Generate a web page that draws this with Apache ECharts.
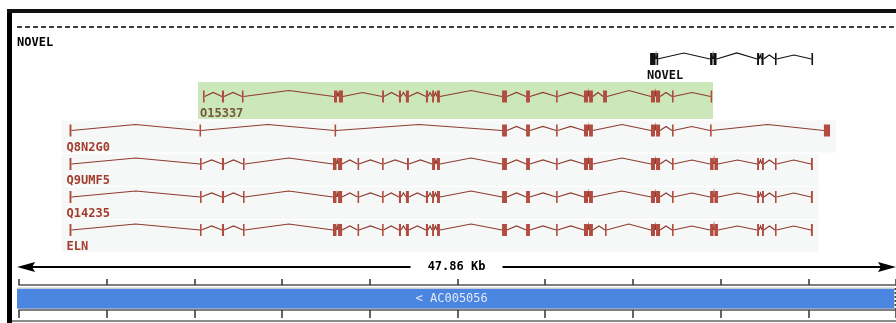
<!DOCTYPE html>
<html>
<head>
<meta charset="utf-8">
<script src="https://cdn.jsdelivr.net/npm/echarts@6/dist/echarts.min.js"></script>
<style>
  html, body { margin: 0; padding: 0; background: #fff; }
  #chart { width: 896px; height: 323px; }
</style>
</head>
<body>
<div id="chart"></div>
<script>
// all positions in kb from the left edge of the view
const trackName = 'NOVEL'
const geneNames = ['NOVEL', 'O15337', 'Q8N2G0', 'Q9UMF5', 'Q14235', 'ELN']

const novelExons = [[35.98, 36.29], [36.35, 36.40], [39.40, 39.54], [39.60, 39.77], [42.08, 42.19], [42.33, 42.45], [43.10, 43.19], [45.18, 45.26]]
const o15337Exons = [[10.49, 10.58], [11.57, 11.69], [12.71, 12.80], [17.96, 18.13], [18.24, 18.47], [20.70, 20.81], [21.66, 21.78], [22.06, 22.23], [23.20, 23.32], [23.55, 23.66], [23.83, 24.00], [27.54, 27.82], [28.91, 29.13], [30.62, 30.70], [32.21, 32.44], [32.50, 32.72], [33.30, 33.52], [36.03, 36.26], [36.32, 36.55], [37.23, 37.31], [39.43, 39.51]]
const q8n2g0Exons = [[2.88, 2.99], [10.29, 10.38], [17.99, 18.07], [27.54, 27.82], [28.91, 29.13], [30.62, 30.70], [32.21, 32.44], [32.50, 32.72], [36.03, 36.26], [36.32, 36.55], [37.23, 37.31], [39.40, 39.48], [45.89, 46.24]]
const q9umf5Exons = [[2.88, 2.99], [10.32, 10.40], [11.57, 11.69], [12.77, 12.86], [17.90, 18.10], [18.19, 18.42], [19.30, 19.38], [20.70, 20.78], [22.12, 22.23], [23.55, 23.72], [23.83, 24.00], [27.54, 27.82], [28.91, 29.13], [30.62, 30.70], [32.21, 32.44], [32.50, 32.72], [36.03, 36.26], [36.32, 36.55], [37.23, 37.31], [39.40, 39.60], [39.65, 39.85], [42.08, 42.19], [42.36, 42.47], [43.10, 43.19], [45.15, 45.26]]
const q14235Exons = [[2.88, 2.99], [10.32, 10.40], [11.57, 11.69], [12.77, 12.86], [17.90, 18.10], [18.19, 18.42], [19.30, 19.38], [20.70, 20.78], [21.66, 21.78], [22.06, 22.23], [23.20, 23.32], [23.55, 23.66], [23.83, 24.00], [27.54, 27.82], [28.91, 29.13], [30.62, 30.70], [32.21, 32.44], [32.50, 32.72], [36.03, 36.26], [36.32, 36.55], [37.23, 37.31], [39.40, 39.60], [39.65, 39.85], [42.08, 42.19], [42.36, 42.47], [43.10, 43.19], [45.15, 45.26]]
const elnExons = [[2.88, 2.99], [10.32, 10.40], [11.57, 11.69], [12.77, 12.86], [17.90, 18.10], [18.19, 18.42], [19.30, 19.38], [20.70, 20.78], [21.66, 21.78], [22.06, 22.23], [23.20, 23.32], [23.55, 23.66], [23.83, 24.00], [27.54, 27.82], [28.91, 29.13], [30.62, 30.70], [32.21, 32.44], [32.50, 32.72], [33.41, 33.49], [36.03, 36.26], [36.32, 36.55], [37.23, 37.31], [39.40, 39.60], [39.65, 39.85], [42.08, 42.19], [42.36, 42.47], [43.10, 43.19], [45.15, 45.26]]

const scaleLabel = '47.86 Kb'
const scaleSpan = [-0.11, 50]
const contigName = '< AC005056'
const contigSpan = [-0.11, 49.9]

// layout (pixel rows on the y axis)
const laneY = [59, 96.5, 130.5, 164, 197, 230]
const scaleY = 267
const contigTop = 289
const contigBottom = 308.5

const exonLists = [novelExons, o15337Exons, q8n2g0Exons, q9umf5Exons, q14235Exons, elnExons]
const MONO = '"DejaVu Sans Mono", "Liberation Mono", monospace'

const chart = echarts.init(document.getElementById('chart'))

const geneData = geneNames.map((name, i) => {
  const ex = exonLists[i]
  return [ex[0][0], laneY[i], ex[ex.length - 1][1]]
})

function renderGene(params, api) {
  const i = params.dataIndex
  const y = api.coord([0, api.value(1)])[1]
  const x0 = api.coord([api.value(0), 0])[0]
  const x1 = api.coord([api.value(2), 0])[0]
  const isNovel = i === 0
  const exonColor = isNovel ? '#111' : '#b24c40'
  const lineColor = isNovel ? '#111' : '#8e3b2f'
  const labelColor = isNovel ? '#111' : (i === 1 ? '#76593a' : '#a33d2e')
  const children = []

  if (i === 1) {
    children.push({ type: 'rect', shape: { x: x0 - 5, y: y - 14.5, width: x1 - x0 + 6, height: 37 }, style: { fill: '#cce7b9' } })
  } else if (!isNovel) {
    children.push({ type: 'rect', shape: { x: x0 - 8, y: y - 10, width: x1 - x0 + 14, height: 32 }, style: { fill: '#f6f8f8' } })
  }

  const px = exonLists[i].map(e => [api.coord([e[0], 0])[0], api.coord([e[1], 0])[0]])
  for (let k = 0; k < px.length - 1; k++) {
    const a = px[k][1]
    const b = px[k + 1][0]
    const h = b - a > 40 ? 6 : 4
    children.push({
      type: 'polyline',
      shape: { points: [[a, y], [(a + b) / 2, y - h], [b, y]] },
      style: { stroke: lineColor, lineWidth: 1.2, fill: null }
    })
  }
  px.forEach(([a, b]) => {
    children.push({
      type: 'rect',
      shape: { x: a, y: y - 6, width: Math.max(1.6, b - a), height: 12 },
      style: { fill: exonColor }
    })
  })
  children.push({
    type: 'text',
    style: {
      text: geneNames[i], x: x0 - 3, y: y + 17,
      fill: labelColor, font: 'bold 12px ' + MONO,
      align: 'left', verticalAlign: 'middle', textAlign: 'left', textVerticalAlign: 'middle'
    }
  })
  return { type: 'group', children }
}

function renderScale(params, api) {
  const a = api.coord([api.value(0), scaleY])
  const b = api.coord([api.value(1), scaleY])
  const y = a[1]
  const mid = (a[0] + b[0]) / 2
  const ls = { stroke: '#000', lineWidth: 2 }
  return {
    type: 'group',
    children: [
      { type: 'line', shape: { x1: a[0] + 12, y1: y, x2: mid - 46, y2: y }, style: ls },
      { type: 'line', shape: { x1: mid + 46, y1: y, x2: b[0] - 12, y2: y }, style: ls },
      { type: 'polygon', shape: { points: [[a[0], y], [a[0] + 18, y - 5], [a[0] + 15, y], [a[0] + 18, y + 5]] }, style: { fill: '#000' } },
      { type: 'polygon', shape: { points: [[b[0], y], [b[0] - 18, y - 5], [b[0] - 15, y], [b[0] - 18, y + 5]] }, style: { fill: '#000' } },
      {
        type: 'text',
        style: {
          text: scaleLabel, x: mid, y: y,
          fill: '#000', font: 'bold 12px ' + MONO,
          align: 'center', verticalAlign: 'middle', textAlign: 'center', textVerticalAlign: 'middle'
        }
      }
    ]
  }
}

function renderContig(params, api) {
  const a = api.coord([api.value(0), contigTop])
  const b = api.coord([api.value(1), contigBottom])
  return {
    type: 'group',
    children: [
      { type: 'rect', shape: { x: a[0], y: a[1] - 1.5, width: b[0] - a[0], height: b[1] - a[1] + 2 }, style: { fill: '#c9ced6' } },
      { type: 'rect', shape: { x: a[0], y: a[1], width: b[0] - a[0], height: b[1] - a[1] }, style: { fill: '#4a85e0' } },
      { type: 'line', shape: { x1: b[0] + 1, y1: a[1] - 1, x2: b[0] + 1, y2: b[1] + 1 }, style: { stroke: '#222', lineWidth: 1.2, lineDash: [2, 2] } },
      {
        type: 'text',
        style: {
          text: contigName, x: (a[0] + b[0]) / 2 - 4, y: (a[1] + b[1]) / 2,
          fill: '#e2e8fa', font: '12px ' + MONO,
          align: 'center', verticalAlign: 'middle', textAlign: 'center', textVerticalAlign: 'middle'
        }
      }
    ]
  }
}

function rulerAxis(position, tickLength) {
  return {
    type: 'value', min: 0, max: 50, interval: 5, gridIndex: 1, position: position,
    axisLine: { show: true, onZero: false, lineStyle: { color: '#555', width: 1.5 } },
    axisTick: { show: true, length: tickLength, lineStyle: { color: '#333', width: 1.5 } },
    axisLabel: { show: false },
    splitLine: { show: false }
  }
}

const option = {
  animation: false,
  backgroundColor: '#fff',
  grid: [
    { left: 19, right: 0, top: 0, bottom: 0, outerBoundsMode: 'none' },
    { left: 19, right: 0, top: 285, height: 25, outerBoundsMode: 'none' }
  ],
  xAxis: [
    { type: 'value', min: 0, max: 50, show: false, gridIndex: 0 },
    rulerAxis('top', 6),
    rulerAxis('bottom', 8)
  ],
  yAxis: [
    { type: 'value', min: 0, max: 323, inverse: true, show: false, gridIndex: 0 },
    { type: 'value', min: 0, max: 1, show: false, gridIndex: 1 }
  ],
  graphic: [
    { type: 'rect', shape: { x: 7, y: 9, width: 5, height: 314 }, style: { fill: '#000' } },
    { type: 'rect', shape: { x: 7, y: 9, width: 889, height: 4 }, style: { fill: '#111' } },
    { type: 'line', shape: { x1: 17, y1: 27, x2: 896, y2: 27 }, style: { stroke: '#000', lineWidth: 1.5, lineDash: [5, 3] } },
    { type: 'line', shape: { x1: 12, y1: 321, x2: 896, y2: 321 }, style: { stroke: '#666', lineWidth: 1.5 } },
    {
      type: 'text',
      style: { text: trackName, x: 17, y: 43, fill: '#000', font: 'bold 12px ' + MONO, textVerticalAlign: 'middle', verticalAlign: 'middle' }
    }
  ],
  series: [
    {
      type: 'custom', name: 'genes', coordinateSystem: 'cartesian2d', xAxisIndex: 0, yAxisIndex: 0,
      clip: false, silent: true, renderItem: renderGene, data: geneData
    },
    {
      type: 'custom', name: 'scale', coordinateSystem: 'cartesian2d', xAxisIndex: 0, yAxisIndex: 0,
      clip: false, silent: true, renderItem: renderScale, data: [scaleSpan]
    },
    {
      type: 'custom', name: 'contig', coordinateSystem: 'cartesian2d', xAxisIndex: 0, yAxisIndex: 0,
      clip: false, silent: true, renderItem: renderContig, data: [contigSpan], z: 1
    }
  ]
}

chart.setOption(option)
</script>
</body>
</html>
